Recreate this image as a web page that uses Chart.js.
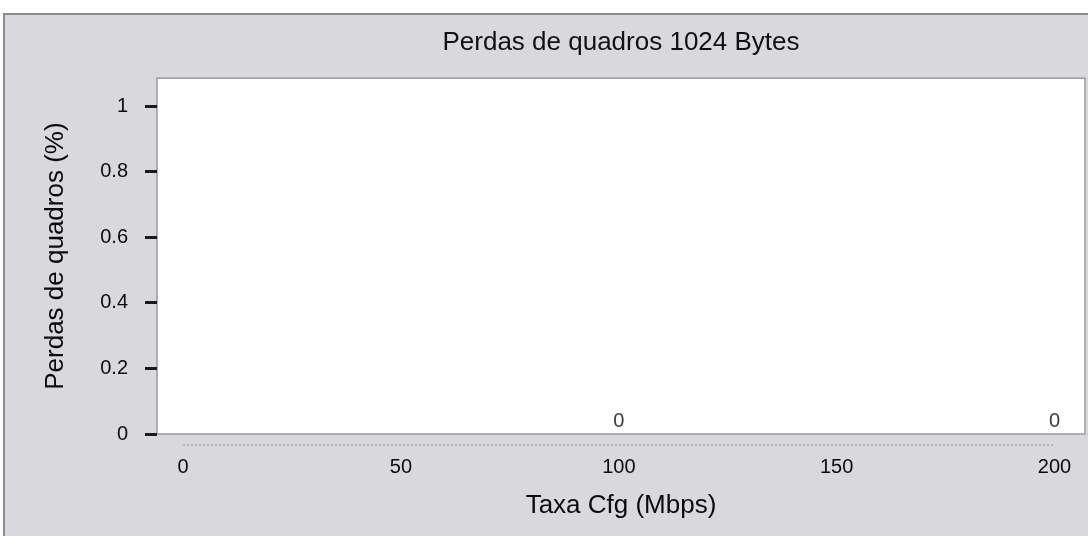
<!DOCTYPE html>
<html>
<head>
<meta charset="utf-8">
<script src="https://cdn.jsdelivr.net/npm/chart.js@4"></script>
<style>
  html, body { margin: 0; padding: 0; background: #fff; }
  #wrap { width: 1088px; height: 536px; }
</style>
</head>
<body>
<div id="wrap"><canvas id="lossChart"></canvas></div>
<script>
// data
var rates = [100, 200];        // Taxa Cfg (Mbps)
var losses = [0, 0];           // Perdas de quadros (%)
var xTicks = [0, 50, 100, 150, 200];
var yTicks = [0, 0.2, 0.4, 0.6, 0.8, 1];

var FONT = "'Liberation Sans', Arial, sans-serif";

// grey scanned panel + white plot box
var panelPlugin = {
  id: 'panel',
  beforeDraw: function(chart) {
    var c = chart.ctx, a = chart.chartArea;
    c.save();
    c.fillStyle = '#ffffff';
    c.fillRect(0, 0, chart.width, chart.height);
    c.fillStyle = '#d9d9dd';
    c.fillRect(3, 13, chart.width - 3, chart.height - 13);
    c.strokeStyle = '#8a8a8e';
    c.lineWidth = 2;
    c.strokeRect(4, 14, chart.width + 4, chart.height + 4);
    c.fillStyle = '#ffffff';
    c.fillRect(a.left, a.top, a.right - a.left, a.bottom - a.top);
    c.strokeStyle = '#9a9a9e';
    c.lineWidth = 1.5;
    c.strokeRect(a.left, a.top, a.right - a.left, a.bottom - a.top);

    // faint dotted x axis line under the plot (0 .. 200)
    var xs = chart.scales.x;
    c.strokeStyle = '#a9a9ae';
    c.lineWidth = 1.5;
    c.setLineDash([2, 2]);
    c.beginPath();
    c.moveTo(xs.getPixelForValue(xTicks[0]), a.bottom + 11);
    c.lineTo(xs.getPixelForValue(xTicks[xTicks.length - 1]), a.bottom + 11);
    c.stroke();
    c.restore();
  }
};

// value labels above points
var labelPlugin = {
  id: 'valueLabels',
  afterDatasetsDraw: function(chart) {
    var c = chart.ctx;
    var meta = chart.getDatasetMeta(0);
    c.save();
    c.font = '20px ' + FONT;
    c.fillStyle = '#3a3a3a';
    c.textAlign = 'center';
    c.textBaseline = 'middle';
    meta.data.forEach(function(pt, i) {
      c.fillText(String(losses[i]), pt.x, pt.y - 13);
    });
    c.restore();
  }
};

new Chart(document.getElementById('lossChart'), {
  type: 'scatter',
  data: {
    datasets: [{
      label: 'Perdas',
      data: rates.map(function(r, i) { return { x: r, y: losses[i] }; }),
      pointRadius: 0,
      showLine: false,
      borderColor: '#333'
    }]
  },
  plugins: [panelPlugin, labelPlugin],
  options: {
    responsive: true,
    maintainAspectRatio: false,
    animation: false,
    layout: { padding: { left: 32, right: 3, top: 26, bottom: 0 } },
    plugins: {
      legend: { display: false },
      tooltip: { enabled: false },
      title: {
        display: true,
        text: 'Perdas de quadros 1024 Bytes',
        fullSize: false,
        color: '#111',
        font: { family: FONT, size: 26, weight: 'normal' },
        padding: { top: 1, bottom: 20 }
      }
    },
    scales: {
      x: {
        type: 'linear',
        min: -6,
        max: 207,
        afterBuildTicks: function(s) { s.ticks = xTicks.map(function(v) { return { value: v }; }); },
        afterFit: function(s) { s.height = 102; s.paddingLeft = 0; s.paddingRight = 0; },
        grid: { display: false, drawTicks: false },
        border: { display: false },
        ticks: { color: '#0a0a0a', padding: 21, font: { family: FONT, size: 20 } },
        title: {
          display: true,
          text: 'Taxa Cfg (Mbps)',
          color: '#0a0a0a',
          font: { family: FONT, size: 26 },
          padding: { top: 4, bottom: 15 }
        }
      },
      y: {
        min: 0,
        max: 1.085,
        afterBuildTicks: function(s) { s.ticks = yTicks.map(function(v) { return { value: v }; }); },
        afterFit: function(s) { s.width = 125; s.paddingTop = 0; s.paddingBottom = 0; },
        border: { display: false },
        grid: {
          drawOnChartArea: false,
          drawTicks: true,
          tickLength: 24,
          tickWidth: 3,
          tickColor: '#1a1a1a',
          tickBorderDash: [0, 12, 12]
        },
        ticks: {
          color: '#0a0a0a',
          padding: 5,
          font: { family: FONT, size: 20 },
          callback: function(v) { return String(v); }
        },
        title: {
          display: true,
          text: 'Perdas de quadros (%)',
          color: '#0a0a0a',
          font: { family: FONT, size: 26 },
          padding: { top: 8, bottom: 8 }
        }
      }
    }
  }
});
</script>
</body>
</html>
